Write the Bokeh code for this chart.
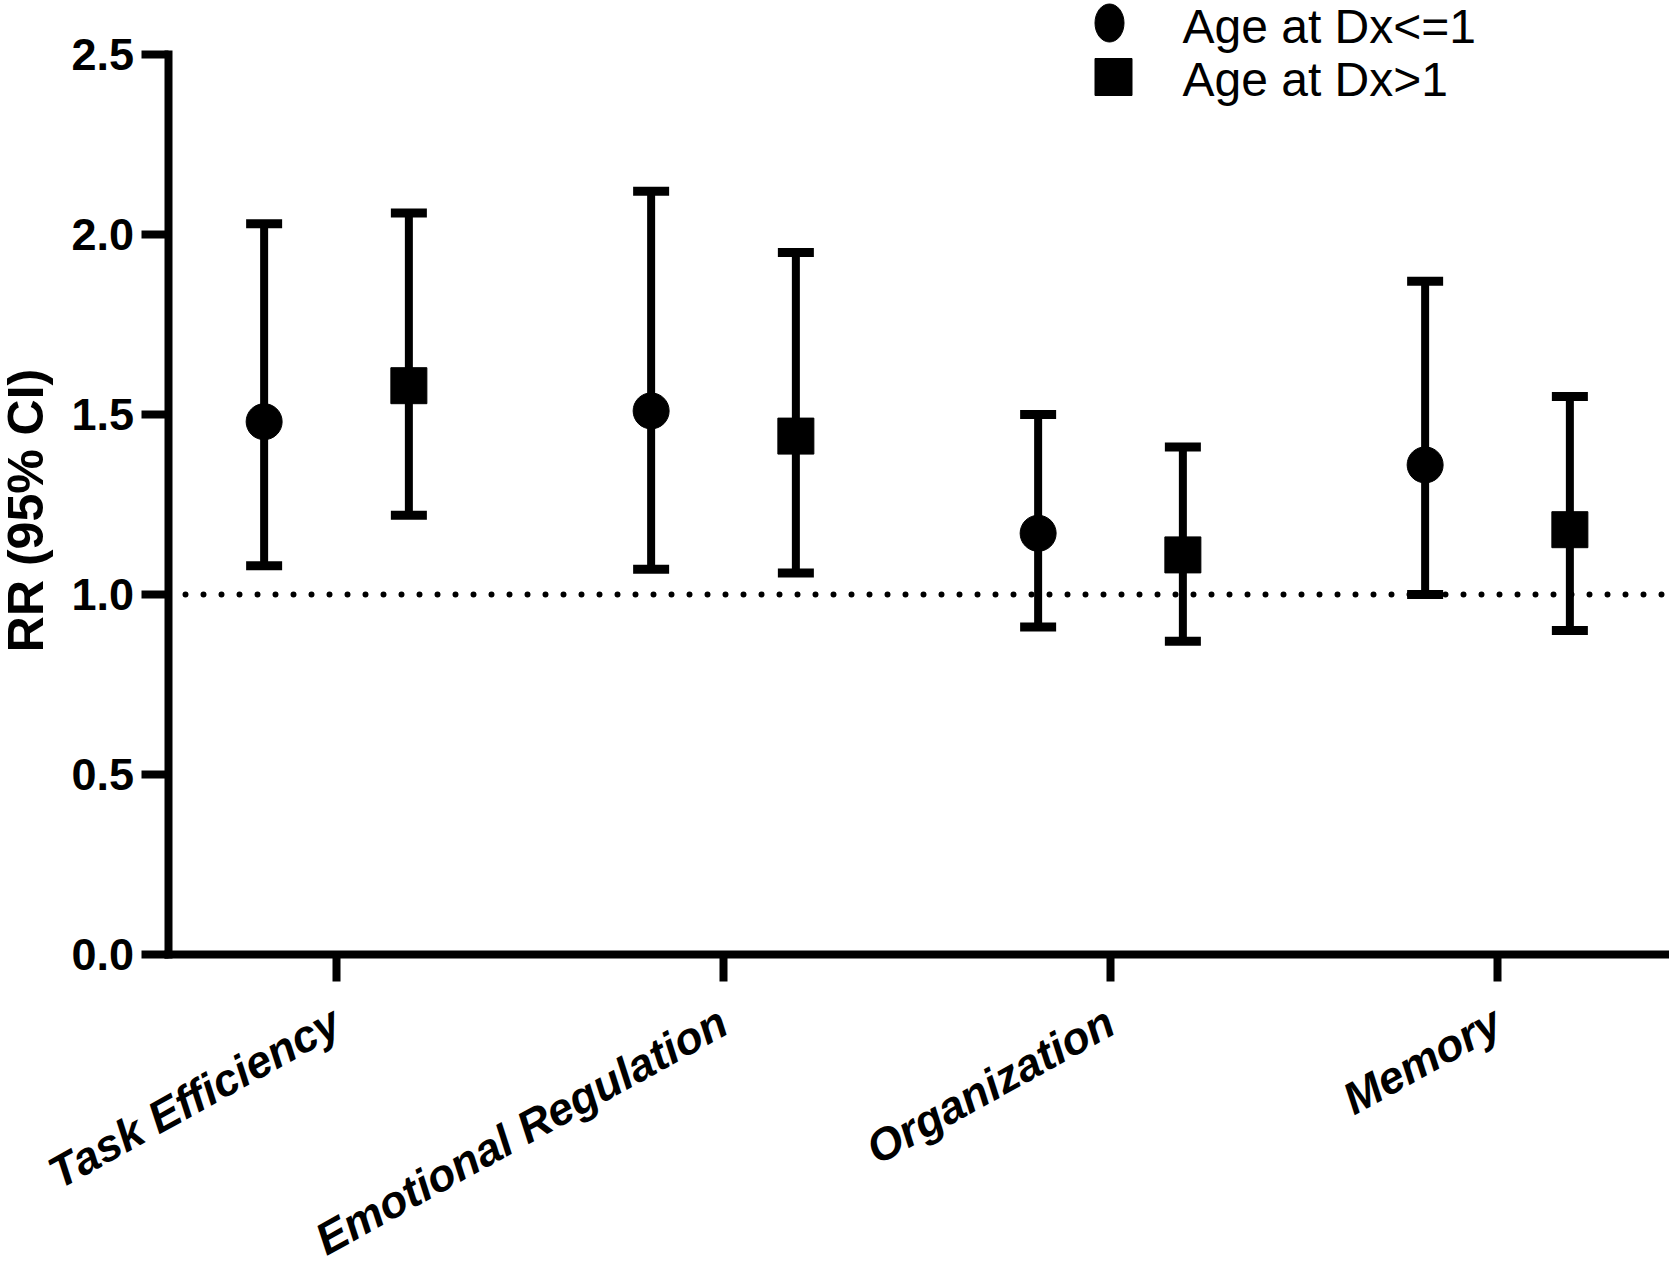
import math
from bokeh.plotting import figure
from bokeh.models import (ColumnDataSource, Whisker, TeeHead, FixedTicker, Range1d)
from bokeh.core.properties import value
from bokeh.embed import file_html
from bokeh.resources import INLINE

# ---------------- data ----------------
categories = ["Task Efficiency", "Emotional Regulation", "Organization", "Memory"]
series_names = ["Age at Dx<=1", "Age at Dx>1"]

rr_le1 = [1.48, 1.51, 1.17, 1.36]
lo_le1 = [1.08, 1.07, 0.91, 1.00]
hi_le1 = [2.03, 2.12, 1.50, 1.87]

rr_gt1 = [1.58, 1.44, 1.11, 1.18]
lo_gt1 = [1.22, 1.06, 0.87, 0.90]
hi_gt1 = [2.06, 1.95, 1.41, 1.55]

y_ticks = [0.0, 0.5, 1.0, 1.5, 2.0, 2.5]
y_tick_labels = ["0.0", "0.5", "1.0", "1.5", "2.0", "2.5"]
ref_value = 1.0
y_label = "RR (95% CI)"

# ---------------- layout (screen px) ----------------
FONT = "Liberation Sans"
W, H = 1669, 1260
AXIS_X_PX = 167.5     # y axis position
AXIS_RIGHT_PX = 1666  # x axis right end
ZERO_PX = 954.0       # y of RR = 0
CAT1_PX = 336.0       # x of first category
UNIT_PX = 387.0       # px per category
Y_PX = 360.0          # px per 1.0 RR
GROUP_OFFSET = 0.187

def xd(px):
    return 1 + (px - CAT1_PX) / UNIT_PX

def yd(py):
    return (ZERO_PX - py) / Y_PX

p = figure(width=W, height=H, output_backend="svg", toolbar_location=None,
           x_range=Range1d(xd(0), xd(W)), y_range=Range1d(yd(H), yd(0)),
           min_border_left=0, min_border_right=0,
           min_border_top=0, min_border_bottom=0)
p.title.visible = False
p.outline_line_color = None
p.grid.visible = False
p.background_fill_color = "white"
p.border_fill_color = "white"

cat_pos = [i + 1 for i in range(len(categories))]
x_le1 = [c - GROUP_OFFSET for c in cat_pos]
x_gt1 = [c + GROUP_OFFSET for c in cat_pos]

src1 = ColumnDataSource(dict(x=x_le1, y=rr_le1, lo=lo_le1, hi=hi_le1))
src2 = ColumnDataSource(dict(x=x_gt1, y=rr_gt1, lo=lo_gt1, hi=hi_gt1))

# dotted reference line at RR = 1
p.line(x=[xd(185), xd(1664)], y=[ref_value, ref_value], line_color="black",
       line_width=6, line_dash="0 18", line_cap="round")

for src in (src1, src2):
    w = Whisker(base="x", upper="hi", lower="lo", source=src, dimension="height",
                line_color="black", line_width=8,
                upper_head=TeeHead(size=36, line_width=9, line_color="black"),
                lower_head=TeeHead(size=36, line_width=9, line_color="black"))
    p.add_layout(w)

p.scatter("x", "y", source=src1, marker="circle", size=36,
          fill_color="black", line_color="black")
p.scatter("x", "y", source=src2, marker="square", size=36,
          fill_color="black", line_color="black")

# ---------------- axes ----------------
yax = p.yaxis[0]
yax.fixed_location = xd(AXIS_X_PX)
yax.ticker = FixedTicker(ticks=y_ticks)
yax.major_label_overrides = {t: l for t, l in zip(y_ticks, y_tick_labels)}
yax.bounds = (y_ticks[0], y_ticks[-1])

xax = p.xaxis[0]
xax.fixed_location = 0.0
xax.ticker = FixedTicker(ticks=cat_pos)
xax.major_label_overrides = {c: n for c, n in zip(cat_pos, categories)}
xax.major_label_orientation = math.radians(29)
xax.bounds = (xd(AXIS_X_PX), xd(AXIS_RIGHT_PX))

for ax in (xax, yax):
    ax.axis_line_width = 8
    ax.axis_line_color = "black"
    ax.axis_line_cap = "square"
    ax.major_tick_line_width = 8
    ax.major_tick_line_color = "black"
    ax.major_tick_out = 27
    ax.major_tick_in = 0
    ax.minor_tick_line_color = None
    ax.major_label_text_font = FONT
    ax.major_label_text_color = "black"
    ax.major_label_text_font_style = "bold"

yax.major_label_text_font_size = "45px"
yax.major_label_standoff = 7
xax.major_label_text_font_size = "45px"
xax.major_label_text_font_style = "bold italic"
xax.major_label_standoff = 37

# y axis title
p.text(x=[xd(25)], y=[yd(510)], text=[y_label], angle=math.pi / 2,
       text_align="center", text_baseline="middle", text_font=value(FONT),
       text_font_size="50px", text_font_style="bold", text_color="black")

# ---------------- legend (manual) ----------------
p.ellipse(x=[xd(1109)], y=[yd(22.5)], width=29, height=38,
          width_units="screen", height_units="screen",
          fill_color="black", line_color="black")
p.scatter(x=[xd(1113)], y=[yd(76.5)], marker="square", size=37,
          fill_color="black", line_color="black")
p.text(x=[xd(1182), xd(1182)], y=[yd(26), yd(79)],
       text=series_names, text_font=value(FONT), text_font_size="48px",
       text_baseline="alphabetic", text_align="left", text_color="black")

open("out.html", "w").write(file_html(p, INLINE))
